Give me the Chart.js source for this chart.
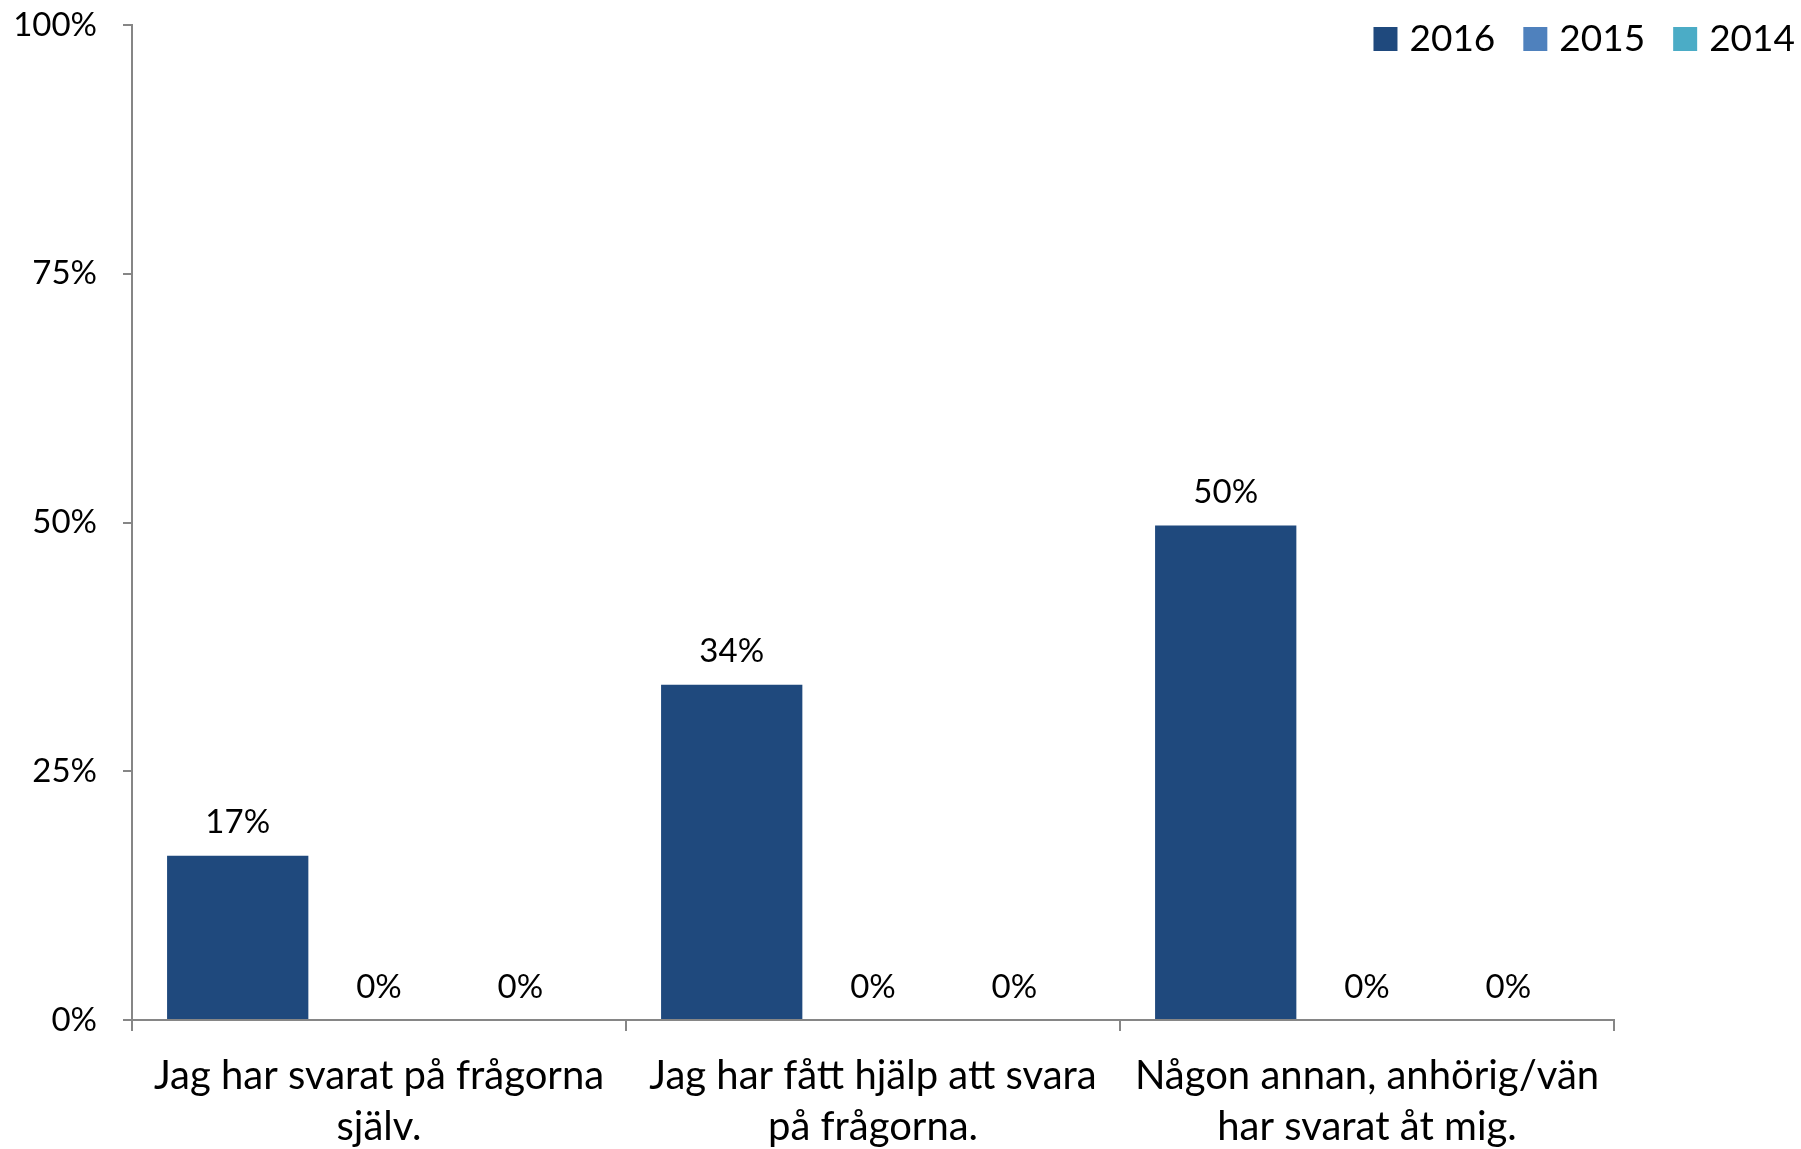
<!DOCTYPE html>
<html>
<head>
<meta charset="utf-8">
<title>Svar</title>
<script src="https://cdn.jsdelivr.net/npm/chart.js"></script>
<style>
  html, body { margin: 0; padding: 0; background: #fff; }
  #wrap { width: 1801px; height: 1149px; }
</style>
</head>
<body>
<div id="wrap"><canvas id="svarChart" width="1801" height="1149"></canvas></div>
<script>
// data
var categories = [
    ['Jag har svarat på frågorna', 'själv.'],
    ['Jag har fått hjälp att svara', 'på frågorna.'],
    ['Någon annan, anhörig/vän', 'har svarat åt mig.']
];
var years = ['2016', '2015', '2014'];
var values2016 = [16.5, 33.7, 49.7];
var values2015 = [0, 0, 0];
var values2014 = [0, 0, 0];
var yearColors = ['#1F497D', '#4F81BD', '#4BACC6'];
var yTickValues = [0, 25, 50, 75, 100];

var fontName = 'Lato';
var axisGray = '#868686';

// value labels above each bar
var barLabels = {
    id: 'barLabels',
    afterDatasetsDraw: function(chart) {
        var ctx = chart.ctx;
        ctx.save();
        ctx.font = '33px ' + fontName;
        ctx.fillStyle = '#000';
        ctx.textAlign = 'center';
        ctx.textBaseline = 'middle';
        chart.data.datasets.forEach(function(ds, i) {
            var meta = chart.getDatasetMeta(i);
            meta.data.forEach(function(bar, j) {
                ctx.fillText(Math.round(ds.data[j]) + '%', bar.x, bar.y - 33);
            });
        });
        ctx.restore();
    }
};

// legend in the top right corner, beside the plot
var cornerLegend = {
    id: 'cornerLegend',
    afterDraw: function(chart) {
        var ctx = chart.ctx;
        ctx.save();
        ctx.font = '37px ' + fontName;
        ctx.textBaseline = 'middle';
        ctx.textAlign = 'left';
        var box = 24, gap = 12, spacing = 28;
        var x = chart.width - 6;
        var y = 39;
        var items = chart.data.datasets.slice().reverse();
        items.forEach(function(ds) {
            var w = ctx.measureText(ds.label).width;
            x -= w;
            ctx.fillStyle = '#000';
            ctx.fillText(ds.label, x, y);
            x -= gap + box;
            ctx.fillStyle = ds.backgroundColor;
            ctx.fillRect(x, y - box / 2, box, box);
            x -= spacing;
        });
        ctx.restore();
    }
};

var datasets = [values2016, values2015, values2014].map(function(vals, i) {
    return {
        label: years[i],
        data: vals,
        backgroundColor: yearColors[i],
        categoryPercentage: 0.858,
        barPercentage: 1.0
    };
});

new Chart(document.getElementById('svarChart'), {
    type: 'bar',
    data: { labels: categories, datasets: datasets },
    options: {
        responsive: false,
        animation: false,
        devicePixelRatio: 1,
        layout: { padding: { top: 25, right: 187, left: 0, bottom: 0 } },
        plugins: {
            legend: { display: false },
            tooltip: { enabled: false }
        },
        scales: {
            x: {
                grid: { drawOnChartArea: false, drawTicks: true, tickLength: 11, color: axisGray, lineWidth: 2, offset: true },
                border: { color: axisGray, width: 2 },
                ticks: {
                    color: '#000',
                    padding: 20,
                    maxRotation: 0,
                    font: { family: fontName, size: 40, lineHeight: 1.27 }
                },
                afterFit: function(scale) { scale.height = 129; }
            },
            y: {
                min: 0,
                max: 100,
                grid: { drawOnChartArea: false, drawTicks: true, tickLength: 9, color: axisGray, lineWidth: 2 },
                border: { color: axisGray, width: 2 },
                afterBuildTicks: function(scale) {
                    scale.ticks = yTickValues.map(function(v) { return { value: v }; });
                },
                ticks: {
                    color: '#000',
                    padding: 26,
                    font: { family: fontName, size: 33 },
                    callback: function(v) { return v + '%'; }
                },
                afterFit: function(scale) {
                    scale.width = 132;
                    // top of the plot is set by the layout padding only
                    scale.paddingTop = 0;
                    scale.paddingBottom = 0;
                }
            }
        }
    },
    plugins: [barLabels, cornerLegend]
});
</script>
</body>
</html>
